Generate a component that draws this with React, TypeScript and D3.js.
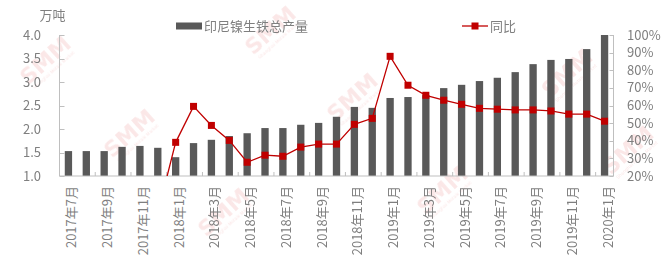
import React from "react";
import * as d3 from "d3";

const months: string[] = [
  "2017年7月","2017年8月","2017年9月","2017年10月","2017年11月","2017年12月",
  "2018年1月","2018年2月","2018年3月","2018年4月","2018年5月","2018年6月",
  "2018年7月","2018年8月","2018年9月","2018年10月","2018年11月","2018年12月",
  "2019年1月","2019年2月","2019年3月","2019年4月","2019年5月","2019年6月",
  "2019年7月","2019年8月","2019年9月","2019年10月","2019年11月","2019年12月",
  "2020年1月",
];

const output: number[] = [
  1.53, 1.53, 1.53, 1.62, 1.64, 1.60,
  1.40, 1.70, 1.77, 1.85, 1.91, 2.02,
  2.02, 2.09, 2.13, 2.26, 2.47, 2.45,
  2.66, 2.68, 2.72, 2.87, 2.94, 3.02,
  3.09, 3.21, 3.38, 3.47, 3.49, 3.70,
  4.00,
];

const yoy: (number | null)[] = [
  null, null, null, null, null, -0.01,
  0.391, 0.595, 0.487, 0.402, 0.278, 0.318,
  0.312, 0.364, 0.381, 0.381, 0.493, 0.527,
  0.879, 0.715, 0.658, 0.630, 0.607, 0.584,
  0.579, 0.575, 0.575, 0.569, 0.551, 0.551,
  0.511,
];

const leftTicks: number[] = [1.0, 1.5, 2.0, 2.5, 3.0, 3.5, 4.0];
const rightTicks: number[] = [0.2, 0.3, 0.4, 0.5, 0.6, 0.7, 0.8, 0.9, 1.0];

const barName = "印尼镍生铁总产量";
const lineName = "同比";
const unitLabel = "万吨";

const watermarks: [number, number][] = [
  [45, 60], [129, 133], [352, 97], [567, 73],
  [442, 190], [223, 212], [628, 150], [270, 30],
];

export default function App() {
  const W = 669, H = 267;
  const x0 = 59.5, x1 = 613.5, yTop = 35, yBot = 176;
  const font = "'Noto Sans CJK SC', 'Microsoft YaHei', sans-serif";
  const textColor = "#7f7f7f";
  const axisColor = "#bfbfbf";
  const barColor = "#595959";
  const lineColor = "#c00000";

  const idx = months.map((_, i) => i);
  const x = d3.scaleBand<number>().domain(idx).range([x0, x1]).paddingInner(0.59).paddingOuter(0.295);
  const step = x.step();
  const yL = d3.scaleLinear().domain([1, 4]).range([yBot, yTop]);
  const yR = d3.scaleLinear().domain([0.2, 1.0]).range([yBot, yTop]);
  const cx = (i: number) => (x(i) as number) + x.bandwidth() / 2;

  const lineGen = d3.line<number | null>()
    .defined((d) => d !== null)
    .x((_, i) => cx(i))
    .y((d) => yR(d as number));
  const path = lineGen(yoy) || "";

  const ms = 7;

  return (
    <svg width={W} height={H} style={{ position: "fixed", left: 0, top: 0, background: "#fff" }} fontFamily={font}>
      <defs>
        <clipPath id="plot">
          <rect x={x0} y={yTop - 10} width={x1 - x0} height={yBot - yTop + 10} />
        </clipPath>
      </defs>
      {/* watermarks */}
      <g opacity={0.4}>
        {watermarks.map(([wx, wy], i) => (
          <g key={i} transform={`translate(${wx},${wy}) rotate(-42)`}>
            <text textAnchor="middle" fontSize={22} fontWeight="bold" fill="#f4c4c4" fontFamily="'DejaVu Sans', sans-serif" dy="0.35em">SMM</text>
            <text textAnchor="middle" fontSize={4.5} fill="#f4c4c4" y={15} fontFamily="'DejaVu Sans', sans-serif">Shanghai Metals Market</text>
          </g>
        ))}
      </g>

      {/* bars */}
      {output.map((v, i) => (
        <rect key={i} x={x(i)} y={yL(v)} width={x.bandwidth()} height={yBot - yL(v)} fill={barColor} />
      ))}

      {/* axes */}
      <line x1={x0} x2={x0} y1={yTop} y2={yBot} stroke={axisColor} strokeWidth={1} />
      <line x1={x1} x2={x1} y1={yTop} y2={yBot} stroke={axisColor} strokeWidth={1} />
      <line x1={x0} x2={x1} y1={yBot} y2={yBot} stroke={axisColor} strokeWidth={1} />
      {leftTicks.map((t) => (
        <g key={"l" + t}>
          <line x1={x0} x2={x0 + 5} y1={Math.round(yL(t)) + 0.5} y2={Math.round(yL(t)) + 0.5} stroke={axisColor} />
          <text x={41} y={yL(t)} dy="0.35em" textAnchor="end" fontSize={13} fill={textColor}>{t.toFixed(1)}</text>
        </g>
      ))}
      {rightTicks.map((t) => (
        <g key={"r" + t}>
          <line x1={x1 - 4} x2={x1} y1={Math.round(yR(t)) + 0.5} y2={Math.round(yR(t)) + 0.5} stroke={axisColor} />
          <text x={627} y={yR(t)} dy="0.35em" textAnchor="start" fontSize={13} fill={textColor}>{Math.round(t * 100) + "%"}</text>
        </g>
      ))}
      {idx.filter((i) => i % 2 === 0 && i > 0).map((i) => (
        <line key={"t" + i} x1={x0 + i * step} x2={x0 + i * step} y1={yBot - 4} y2={yBot} stroke={axisColor} />
      ))}
      {idx.filter((i) => i % 2 === 0).map((i) => (
        <text key={"x" + i} transform={`translate(${cx(i) + 3.5},${186}) rotate(-90)`} textAnchor="end" dy="0.35em" fontSize={13} fill={textColor}>{months[i]}</text>
      ))}

      {/* line */}
      <g clipPath="url(#plot)">
        <path d={path} fill="none" stroke={lineColor} strokeWidth={1.3} />
      </g>
      {yoy.map((v, i) => v !== null && v >= 0.2 ? (
        <rect key={"m" + i} x={cx(i) - ms / 2} y={yR(v) - ms / 2} width={ms} height={ms} fill={lineColor} />
      ) : null)}

      {/* unit */}
      <text x={39.5} y={15} dy="0.35em" fontSize={13} fill={textColor}>{unitLabel}</text>

      {/* legend */}
      <rect x={176} y={22.5} width={26} height={7} fill={barColor} />
      <text x={204} y={26} dy="0.35em" fontSize={13} fill={textColor}>{barName}</text>
      <line x1={462} x2={488} y1={26} y2={26} stroke={lineColor} strokeWidth={1.3} />
      <rect x={475 - ms / 2} y={26 - ms / 2} width={ms} height={ms} fill={lineColor} />
      <text x={490} y={26} dy="0.35em" fontSize={13} fill={textColor}>{lineName}</text>
    </svg>
  );
}
